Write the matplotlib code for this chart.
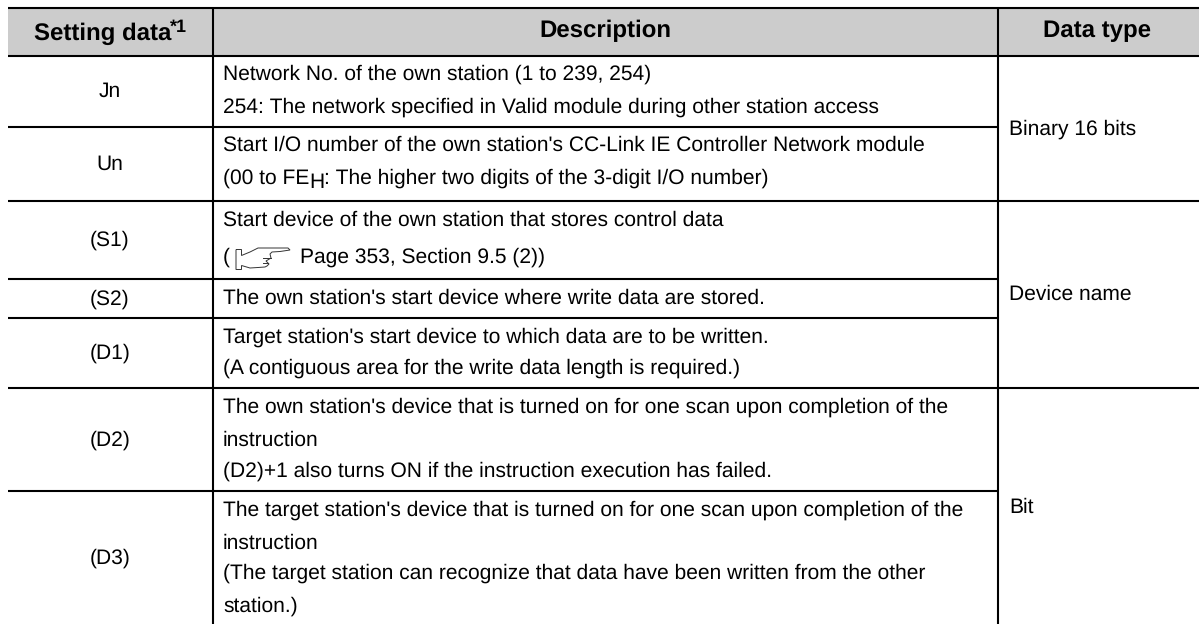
import matplotlib
matplotlib.use('Agg')
import matplotlib.pyplot as plt
from matplotlib.path import Path
from matplotlib.patches import PathPatch

plt.rcParams['font.family'] = ['Liberation Sans', 'DejaVu Sans']
plt.rcParams['text.hinting'] = 'no_hinting'
plt.rcParams['text.hinting_factor'] = 1

W, H = 1199, 624

left, col1, col2 = 8, 212.7, 997.7
row_edges = [8, 55.7, 126.7, 201, 278.7, 317.7, 387.7, 491]
full_rows = [8, 55.7, 201, 387.7]   # lines that also cross the data type column

headers = ['Setting data', 'Description', 'Data type']
settings = ['Jn', 'Un', '(S1)', '(S2)', '(D1)', '(D2)', '(D3)']
descriptions = [
    ['Network No. of the own station (1 to 239, 254)',
     '254: The network specified in Valid module during other station access'],
    ["Start I/O number of the own station's CC-Link IE Controller Network module",
     '(00 to FE'],
    ['Start device of the own station that stores control data',
     '('],
    ["The own station's start device where write data are stored."],
    ["Target station's start device to which data are to be written.",
     '(A contiguous area for the write data length is required.)'],
    ["The own station's device that is turned on for one scan upon completion of the",
     'instruction',
     '(D2)+1 also turns ON if the instruction execution has failed.'],
    ["The target station's device that is turned on for one scan upon completion of the",
     'instruction',
     '(The target station can recognize that data have been written from the other',
     'station.)'],
]
baselines = [[80, 112.3], [150.7, 184], [226, 262.7], [303.5], [342.7, 374],
             [412.7, 445.3, 476.7], [515.7, 548.3, 578.5, 611.7]]
data_types = ['Binary 16 bits', 'Device name', 'Bit']
data_type_base = [134.5, 300, 513]

fig = plt.figure(figsize=(W / 100, H / 100), dpi=100)
ax = fig.add_axes([0, 0, 1, 1])
ax.set_xlim(0, W)
ax.set_ylim(H, 0)
ax.axis('off')

ax.fill_between([left, W], 8, 55.7, color='#cccccc', lw=0)

lw = 1.5
for y in row_edges:
    x_end = W if y in full_rows else col2
    ax.plot([left, x_end], [y, y], color='black', lw=lw, solid_capstyle='butt')
for x in (col1, col2):
    ax.plot([x, x], [8, H], color='black', lw=lw, solid_capstyle='butt')

fs = 15.1
fs_head = 17.0
ax.text(34, 40, headers[0], ha='left', va='baseline', fontsize=fs_head, fontweight='bold')
ax.text(169.5, 32, '*1', ha='left', va='baseline', fontsize=13, fontweight='bold')
ax.text(605, 37.5, headers[1], ha='center', va='baseline', fontsize=fs_head, fontweight='bold')
ax.text(1097.5, 37.5, headers[2], ha='center', va='baseline', fontsize=fs_head, fontweight='bold')

renderer = fig.canvas.get_renderer()
for i, name in enumerate(settings):
    bottom = row_edges[i + 2] if i + 2 < len(row_edges) else H
    yc = (row_edges[i + 1] + bottom) / 2
    ax.text(110, yc + 6, name, ha='center', va='baseline', fontsize=fs)
    for line, y in zip(descriptions[i], baselines[i]):
        t = ax.text(223, y, line, ha='left', va='baseline', fontsize=fs)
        if line == '(00 to FE':
            # FE with subscript H, then the rest of the line
            x1 = t.get_window_extent(renderer).x1
            sub = ax.text(x1, y + 4.5, 'H', ha='left', va='baseline', fontsize=fs)
            x2 = sub.get_window_extent(renderer).x1
            ax.text(x2, y, ': The higher two digits of the 3-digit I/O number)',
                    ha='left', va='baseline', fontsize=fs)

ax.text(300, baselines[2][1], 'Page 353, Section 9.5 (2))', ha='left', va='baseline', fontsize=fs)

for label, y in zip(data_types, data_type_base):
    ax.text(1008.8, y, label, ha='left', va='baseline', fontsize=fs)

# pointing hand icon in the (S1) row
M, L = Path.MOVETO, Path.LINETO
hand = Path(
    [(236, 249.5), (236, 269.5), (241.5, 269.5), (241.5, 265.5),
     (250, 268), (258, 267.5), (265, 267), (267, 266), (269, 264), (266, 261),
     (271, 258), (270, 254), (272, 252), (280, 251.5), (290, 250), (288, 248),
     (270, 248), (258, 248), (250, 252), (241.5, 255.5), (241.5, 249.5), (236, 249.5)],
    [M] + [L] * 21)
ax.add_patch(PathPatch(hand, fc='white', ec='#333333', lw=0.7))
ax.plot([263, 271], [258, 258], color='#333333', lw=0.7)
ax.plot([263, 268], [263, 263], color='#333333', lw=0.7)

fig.savefig('out.png', dpi=100)
